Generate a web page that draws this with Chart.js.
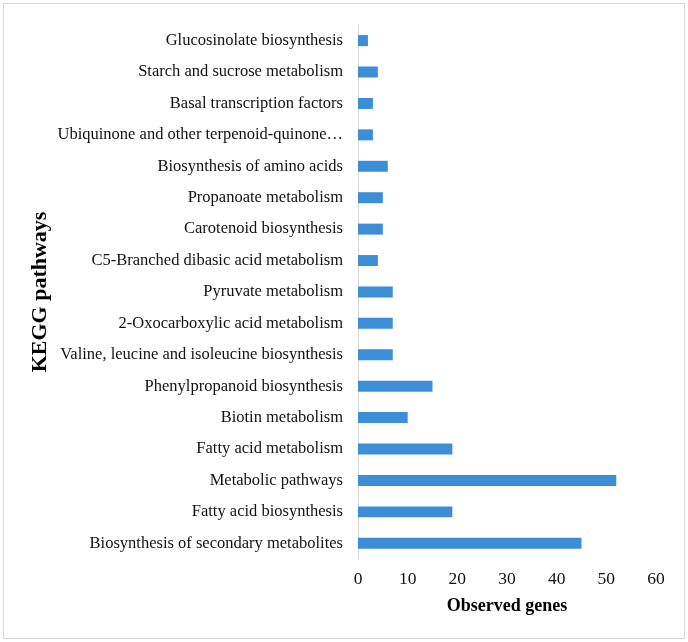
<!DOCTYPE html>
<html>
<head>
<meta charset="utf-8">
<script src="https://cdn.jsdelivr.net/npm/chart.js@4.4.1/dist/chart.umd.min.js"></script>
<style>
    html, body { margin: 0; padding: 0; background: #fff; }
    #wrap { width: 688px; height: 642px; }
</style>
</head>
<body>
<div id="wrap"><canvas id="keggChart" width="688" height="642"></canvas></div>
<script>
// 通路名称（从上到下）
const pathways = [
    'Glucosinolate biosynthesis',
    'Starch and sucrose metabolism',
    'Basal transcription factors',
    'Ubiquinone and other terpenoid-quinone\u2026',
    'Biosynthesis of amino acids',
    'Propanoate metabolism',
    'Carotenoid biosynthesis',
    'C5-Branched dibasic acid metabolism',
    'Pyruvate metabolism',
    '2-Oxocarboxylic acid metabolism',
    'Valine, leucine and isoleucine biosynthesis',
    'Phenylpropanoid biosynthesis',
    'Biotin metabolism',
    'Fatty acid metabolism',
    'Metabolic pathways',
    'Fatty acid biosynthesis',
    'Biosynthesis of secondary metabolites'
];

// 基因数
const observedGenes = [2, 4, 3, 3, 6, 5, 5, 4, 7, 7, 7, 15, 10, 19, 52, 19, 45];

// x 轴刻度
const xTicks = [0, 10, 20, 30, 40, 50, 60];

const serif = '"Liberation Serif", "Times New Roman", serif';

// 白底 + 外边框
const framePlugin = {
    id: 'frame',
    beforeDraw(chart) {
        const { ctx, width, height } = chart;
        ctx.save();
        ctx.fillStyle = '#fff';
        ctx.fillRect(0, 0, width, height);
        ctx.strokeStyle = '#d9d9d9';
        ctx.lineWidth = 1;
        ctx.strokeRect(3.5, 3.5, width - 7, height - 7);
        ctx.restore();
    }
};

const ctx = document.getElementById('keggChart').getContext('2d');

new Chart(ctx, {
    type: 'bar',
    data: {
        labels: pathways,
        datasets: [{
            label: 'Observed genes',
            data: observedGenes,
            backgroundColor: '#3D8ED7',
            borderWidth: 0,
            barPercentage: 0.35,
            categoryPercentage: 1
        }]
    },
    options: {
        indexAxis: 'y',
        responsive: false,
        animation: false,
        layout: { padding: { top: 22, right: 32, bottom: 0, left: 0 } },
        plugins: {
            legend: { display: false },
            tooltip: { enabled: false }
        },
        scales: {
            x: {
                min: 0,
                max: 60,
                afterBuildTicks: (scale) => { scale.ticks = xTicks.map(v => ({ value: v })); },
                afterFit: (scale) => { scale.height = 83; },
                grid: { display: false, drawTicks: false },
                border: { display: false },
                ticks: {
                    padding: 10,
                    color: '#111',
                    font: { family: serif, size: 17.5 }
                },
                title: {
                    display: true,
                    text: 'Observed genes',
                    color: '#000',
                    font: { family: serif, size: 18, weight: 'bold' },
                    padding: { top: 0, bottom: 25 }
                }
            },
            y: {
                afterFit: (scale) => { scale.width = 358; },
                grid: { display: false, drawTicks: false },
                border: { display: true, color: '#d9d9d9', width: 1 },
                ticks: {
                    autoSkip: false,
                    padding: 15,
                    color: '#111',
                    font: { family: serif, size: 16.5 }
                },
                title: {
                    display: true,
                    text: 'KEGG pathways',
                    color: '#000',
                    font: { family: serif, size: 22, weight: 'bold' },
                    padding: { top: 27, bottom: 0 }
                }
            }
        }
    },
    plugins: [framePlugin]
});
</script>
</body>
</html>
